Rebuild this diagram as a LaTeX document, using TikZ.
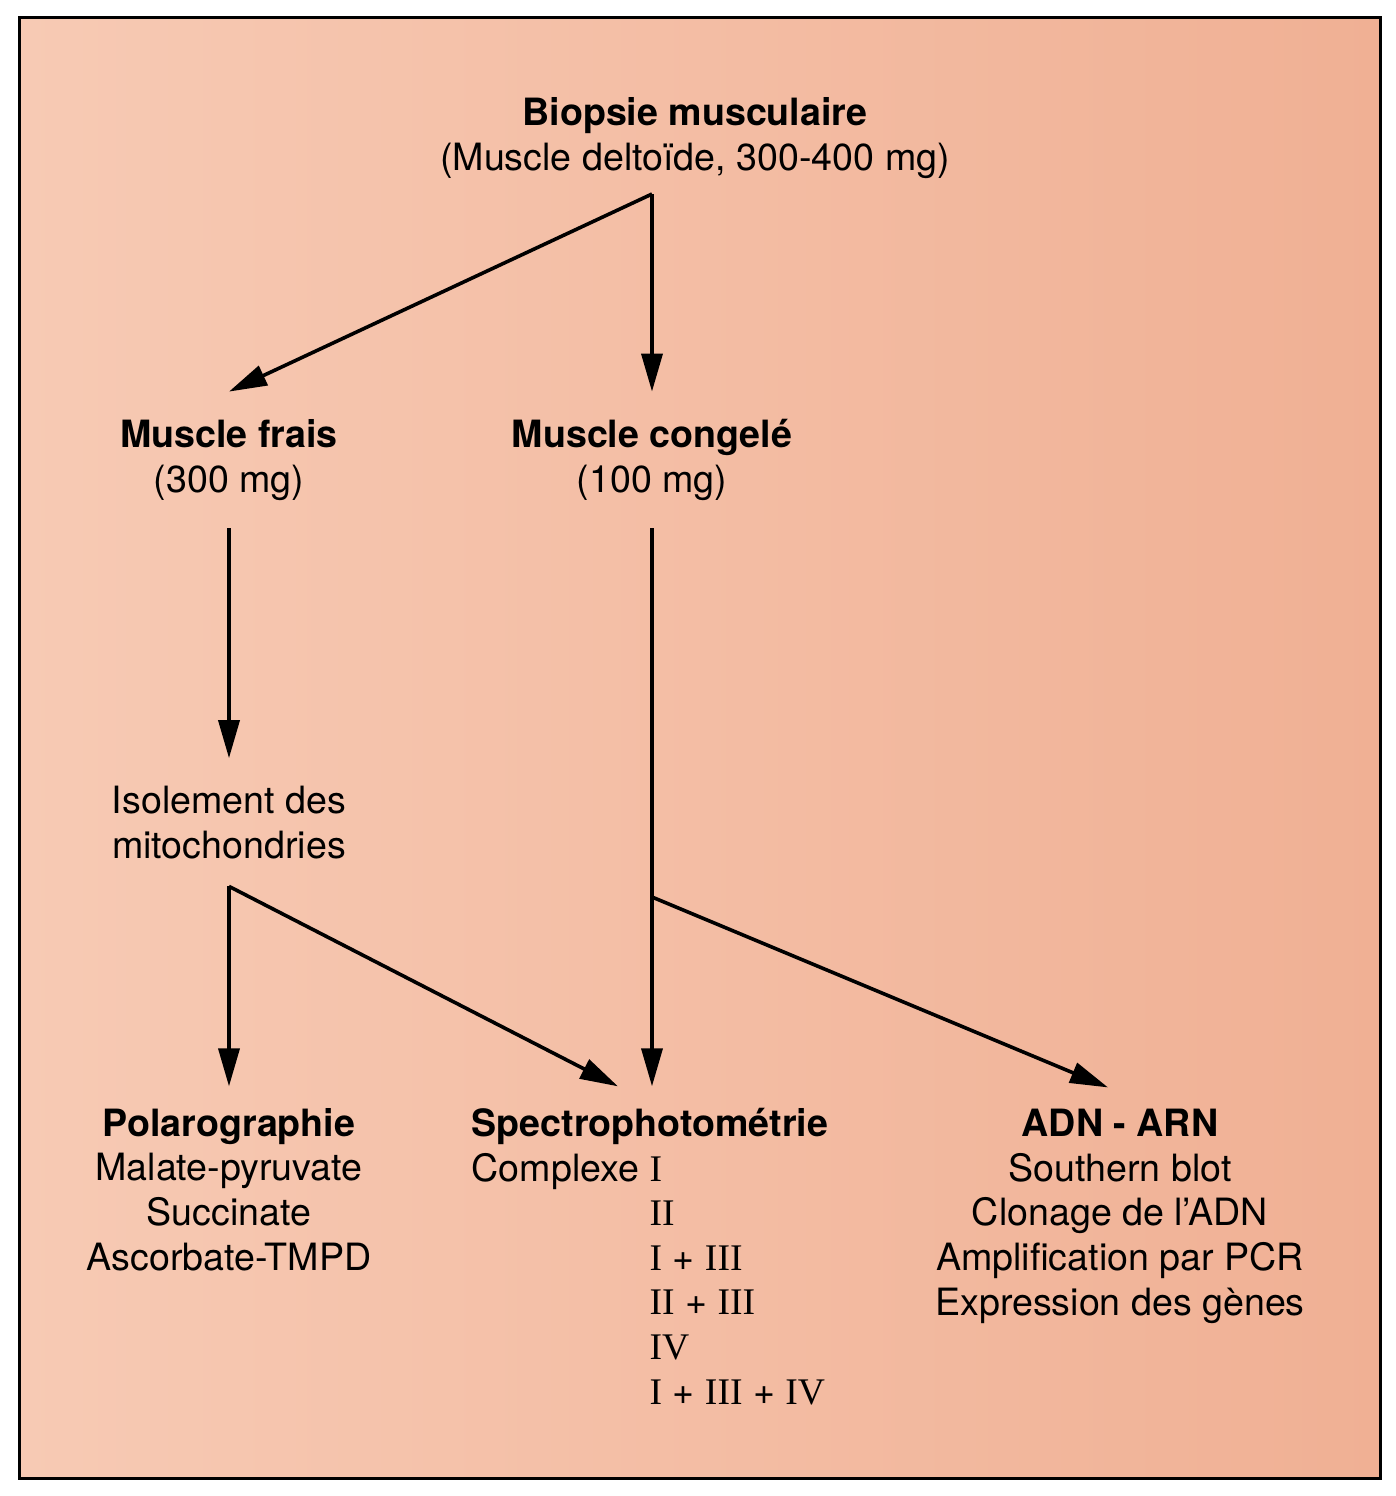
\documentclass[tikz,border=0pt]{standalone}
\usepackage{fontspec}
\setmainfont{TeX Gyre Heros}
\newfontfamily\romfont{Liberation Serif}
\usetikzlibrary{arrows.meta,positioning}

\definecolor{peachl}{RGB}{247,202,180}
\definecolor{peachr}{RGB}{240,176,148}
\newcommand{\cplx}[1]{{\romfont #1}}

\begin{document}
\begin{tikzpicture}[x=0.5pt,y=-0.5pt,>={Triangle[length=19pt,width=10.5pt]},
    line width=1.8pt,
    every node/.style={inner xsep=0pt,inner ysep=13pt,anchor=base,
      font=\fontsize{18.8}{22.3}\selectfont},
    block/.style={align=center},
    result/.style={inner ysep=10pt}]
  \useasboundingbox (0,0) rectangle (1396,1496);
  \shadedraw[left color=peachl,right color=peachr,line width=1.5pt]
    (19,17) rectangle (1380,1478);

  % base = baseline of the last line
  \node[block] (biopsie) at (695,170)
    {\textbf{Biopsie musculaire}\\(Muscle deltoïde, 300-400 mg)};
  \node[block] (frais) at (229,492) {\textbf{Muscle frais}\\(300 mg)};
  \node[block] (congele) at (652,492) {\textbf{Muscle congelé}\\(100 mg)};
  \node[block] (isolement) at (229,858) {Isolement des\\mitochondries};
  \node[block,result] (polaro) at (229,1270)
    {\textbf{Polarographie}\\Malate-pyruvate\\Succinate\\Ascorbate-TMPD};
  \node[result,align=left,anchor=base west] (spectro) at (470,1404)
    {\textbf{Spectrophotométrie}\\
     Complexe \cplx{I}\\
     \phantom{Complexe }\cplx{II}\\
     \phantom{Complexe }\cplx{I} + \cplx{III}\\
     \phantom{Complexe }\cplx{II} + \cplx{III}\\
     \phantom{Complexe }\cplx{IV}\\
     \phantom{Complexe }\cplx{I} + \cplx{III} + \cplx{IV}};
  \node[block,result] (adn) at (1120,1315)
    {\textbf{ADN - ARN}\\Southern blot\\Clonage de l'ADN\\Amplification par PCR\\Expression des gènes};

  \coordinate (fork1) at (652,194);
  \coordinate (fork3) at (652,897);

  \draw[->] (fork1) -- (frais.north);
  \draw[->] (fork1) -- (fork1 |- frais.north);
  \draw[->] (frais) -- (isolement);
  \draw[->] (isolement.south) -- (polaro.north);
  \draw[->] (isolement.south) -- ([xshift=-16pt]spectro.north);
  \draw[->] (congele.south) -- (congele.south |- spectro.north);
  \draw[->] (fork3) -- ([xshift=-6pt]adn.north);
\end{tikzpicture}
\end{document}
